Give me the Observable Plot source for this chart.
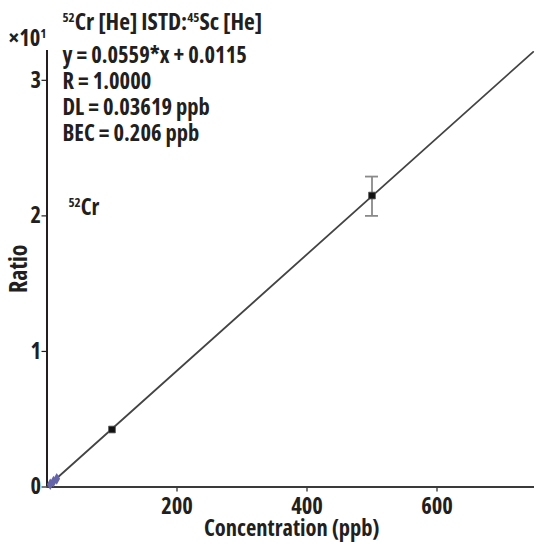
<!DOCTYPE html>
<html>
<head>
<meta charset="utf-8">
<script src="https://cdn.jsdelivr.net/npm/d3@7"></script>
<script src="https://cdn.jsdelivr.net/npm/@observablehq/plot@0.6"></script>
<style>
  html, body { margin: 0; padding: 0; background: #fff; }
  #chart svg { display: block; font-family: "Open Sans", "Roboto", sans-serif; font-stretch: 75%; }
  #chart svg text { font-stretch: 75%; }
</style>
</head>
<body>
<div id="chart"></div>
<script>
// ---- data ----
const lowConc = [5, 10, 15];
const lowRatio = [0.02, 0.04, 0.06];
const stdConc = [100, 500];
const stdRatio = [0.424, 2.15];
const errLow = [0.424, 2.00];
const errHigh = [0.424, 2.29];
const fitConc = [0, 748];
const fitRatio = [0, 3.21];
const xTicks = [200, 400, 600];
const yTicks = [0, 1, 2, 3];
const titleText = "{52}Cr [He] ISTD:{45}Sc [He]";
const statLines = ["y = 0.0559*x + 0.0115", "R = 1.0000", "DL = 0.03619 ppb", "BEC = 0.206 ppb"];
const elementLabel = "{52}Cr";
const multiplierLabel = "×10{1}";
const xLabel = "Concentration (ppb)";
const yLabel = "Ratio";

const lowPts = lowConc.map((x, i) => ({x, y: lowRatio[i]}));
const stdPts = stdConc.map((x, i) => ({x, y: stdRatio[i], lo: errLow[i], hi: errHigh[i]}));
const errPts = stdPts.filter(d => d.hi > d.lo);
const fitPts = fitConc.map((x, i) => ({x, y: fitRatio[i]}));

const ink = "#231f20";
const yMax = 3.22;
const fs = 22.5;
const textOpts = {textAnchor: "start", lineAnchor: "middle", fontSize: fs, fontWeight: "bold", fill: ink};

const chart = Plot.plot({
  width: 538,
  height: 548,
  marginLeft: 46.5,
  marginRight: 4,
  marginTop: 50,
  marginBottom: 61.5,
  style: {fontSize: fs + "px", color: ink, fontWeight: "bold"},
  x: {domain: [0, 750], axis: null},
  y: {domain: [0, yMax], axis: null},
  marks: [
    Plot.axisX({ticks: xTicks, tickSize: 5, tickPadding: 6, stroke: ink, strokeWidth: 1.2, fontSize: fs, fontWeight: "bold", label: null}),
    Plot.axisY({ticks: yTicks, tickSize: 5, tickPadding: 1, stroke: ink, strokeWidth: 1.2, fontSize: fs, fontWeight: "bold", label: null, tickFormat: d => String(d)}),
    Plot.ruleX([0], {y1: 0, y2: yMax, stroke: ink, strokeWidth: 2}),
    Plot.ruleY([0], {x1: 0, x2: 750, stroke: "#3a3a3a", strokeWidth: 2}),
    Plot.line(fitPts, {x: "x", y: "y", stroke: "#444", strokeWidth: 1.8}),
    Plot.ruleX(errPts, {x: "x", y1: "lo", y2: "hi", stroke: "#8a8a8a", strokeWidth: 1.8}),
    Plot.ruleY(errPts, {y: "lo", x1: d => d.x - 10, x2: d => d.x + 10, stroke: "#8a8a8a", strokeWidth: 1.8}),
    Plot.ruleY(errPts, {y: "hi", x1: d => d.x - 10, x2: d => d.x + 10, stroke: "#8a8a8a", strokeWidth: 1.8}),
    Plot.dot(lowPts, {x: "x", y: "y", symbol: "diamond", r: 3.5, fill: "#6464a8", stroke: "none"}),
    Plot.dot(stdPts, {x: "x", y: "y", symbol: "square", r: 3.8, fill: "#111", stroke: "#555", strokeWidth: 0.8}),
    Plot.text([titleText], {...textOpts, fontSize: 23.5, frameAnchor: "top-left", dx: 15.5, dy: -28, text: d => d}),
    Plot.text([multiplierLabel], {...textOpts, frameAnchor: "top-left", dx: -38.5, dy: -12, text: d => d}),
    ...statLines.map((t, i) => Plot.text([t], {...textOpts, frameAnchor: "top-left", dx: 15.5, dy: 5 + i * 26, text: d => d})),
    Plot.text([elementLabel], {...textOpts, frameAnchor: "top-left", dx: 21.5, dy: 157, text: d => d}),
    Plot.text([xLabel], {...textOpts, textAnchor: "middle", frameAnchor: "bottom", dx: 1, dy: 42, text: d => d}),
    Plot.text([yLabel], {...textOpts, fontSize: 24, textAnchor: "middle", frameAnchor: "left", dx: -28, rotate: -90, text: d => d})
  ]
});

// Render {nn} markers as superscripts
d3.select(chart).selectAll("text").each(function() {
  const el = this;
  const targets = el.querySelectorAll("tspan").length ? Array.from(el.querySelectorAll("tspan")) : [el];
  targets.forEach(node => {
    const s = node.textContent;
    if (!s.includes("{")) return;
    const parts = s.split(/(\{[^}]*\})/).filter(p => p.length);
    node.textContent = "";
    let raised = false;
    parts.forEach(p => {
      const t = document.createElementNS("http://www.w3.org/2000/svg", "tspan");
      if (p.startsWith("{")) {
        t.textContent = p.slice(1, -1);
        t.setAttribute("font-size", "13");
        t.setAttribute("dy", "-8");
        raised = true;
      } else {
        t.textContent = p;
        if (raised) { t.setAttribute("dy", "8"); raised = false; }
      }
      node.appendChild(t);
    });
  });
});

document.getElementById("chart").appendChild(chart);
</script>
</body>
</html>
